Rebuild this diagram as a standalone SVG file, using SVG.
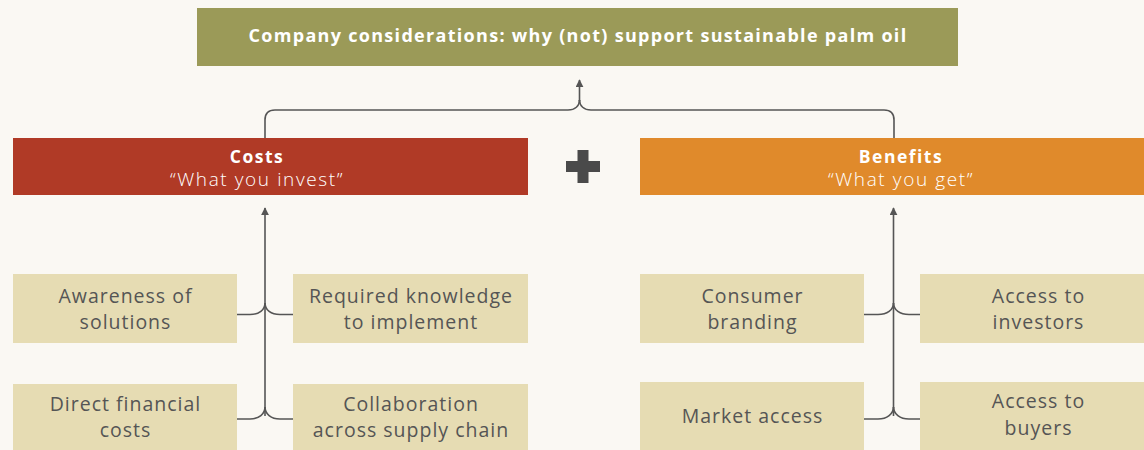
<svg xmlns="http://www.w3.org/2000/svg" width="1144" height="450" viewBox="0 0 1144 450">
<defs>
<style>
.bg{fill:#faf8f3}
.title{fill:#9b9a58}
.costs{fill:#b03a26}
.benefits{fill:#e08a2b}
.item{fill:#e6dcb3}
.conn{fill:none;stroke:#555;stroke-width:1.6}
.t-title{font-family:"Open Sans","Noto Sans",sans-serif;font-weight:700;font-size:18px;letter-spacing:1.3px;fill:#fff;text-anchor:middle}
.t-head{font-family:"Open Sans","Noto Sans",sans-serif;font-weight:700;font-size:17.5px;letter-spacing:1.5px;fill:#fff;text-anchor:middle}
.t-sub{font-family:"Open Sans","Noto Sans",sans-serif;font-weight:300;font-size:19px;letter-spacing:1.6px;fill:#fff;text-anchor:middle}
.t-item{font-family:"Open Sans","Noto Sans",sans-serif;font-weight:400;font-size:19.5px;letter-spacing:1px;fill:#555;text-anchor:middle}
</style>
<marker id="arr" viewBox="0 0 10 10" refX="9" refY="5" markerWidth="8" markerHeight="8" markerUnits="userSpaceOnUse" orient="auto">
<path d="M0,0 L10,5 L0,10 z" fill="#555"/>
</marker>
</defs>
<rect class="bg" x="0" y="0" width="1144" height="450"/>

<g id="connectors">
<path class="conn" d="M265,138 V120 Q265,110 275,110 H568 C575,110 579.5,106 579.5,100"/>
<path class="conn" d="M894,138 V120 Q894,110 884,110 H591 C584,110 579.5,106 579.5,100"/>
<path class="conn" d="M579.5,101 V80" marker-end="url(#arr)"/>
<path class="conn" d="M265,416 V208" marker-end="url(#arr)"/>
<path class="conn" d="M237,314.5 H250 C259,314.5 265,310 265,303"/>
<path class="conn" d="M293,314.5 H280 C271,314.5 265,310 265,303"/>
<path class="conn" d="M237,419 H250 C259,419 265,414 265,407"/>
<path class="conn" d="M293,419 H280 C271,419 265,414 265,407"/>
<path class="conn" d="M893.5,416 V208" marker-end="url(#arr)"/>
<path class="conn" d="M864,314.5 H878 C887,314.5 893.5,310 893.5,303"/>
<path class="conn" d="M920,314.5 H909 C900,314.5 893.5,310 893.5,303"/>
<path class="conn" d="M864,419 H878 C887,419 893.5,414 893.5,407"/>
<path class="conn" d="M920,419 H909 C900,419 893.5,414 893.5,407"/>
</g>

<g id="title">
<rect class="title" x="197" y="8" width="761" height="58"/>
<text class="t-title" x="578" y="42">Company considerations: why (not) support sustainable palm oil</text>
</g>

<g id="costs">
<rect class="costs" x="13" y="138" width="515" height="57"/>
<text class="t-head" x="257" y="163">Costs</text>
<text class="t-sub" x="257" y="186">“What you invest”</text>
</g>

<g id="plus">
<rect x="566" y="161" width="34" height="11" fill="#4a4a4a"/>
<rect x="577.5" y="150" width="11" height="33" fill="#4a4a4a"/>
</g>

<g id="benefits">
<rect class="benefits" x="640" y="138" width="504" height="57"/>
<text class="t-head" x="901" y="163">Benefits</text>
<text class="t-sub" x="901" y="186">“What you get”</text>
</g>

<g id="awareness">
<rect class="item" x="13" y="274" width="224" height="69"/>
<text class="t-item" x="125.5" y="303">Awareness of</text>
<text class="t-item" x="125.5" y="329">solutions</text>
</g>
<g id="knowledge">
<rect class="item" x="293" y="274" width="235" height="69"/>
<text class="t-item" x="411" y="303">Required knowledge</text>
<text class="t-item" x="411" y="329">to implement</text>
</g>
<g id="financial">
<rect class="item" x="13" y="384" width="224" height="66"/>
<text class="t-item" x="125.5" y="411">Direct financial</text>
<text class="t-item" x="125.5" y="437">costs</text>
</g>
<g id="collaboration">
<rect class="item" x="293" y="384" width="235" height="66"/>
<text class="t-item" x="411" y="411">Collaboration</text>
<text class="t-item" x="411" y="437">across supply chain</text>
</g>

<g id="branding">
<rect class="item" x="640" y="274" width="224" height="69"/>
<text class="t-item" x="752.5" y="303">Consumer</text>
<text class="t-item" x="752.5" y="329">branding</text>
</g>
<g id="investors">
<rect class="item" x="920" y="274" width="224" height="69"/>
<text class="t-item" x="1038.5" y="303">Access to</text>
<text class="t-item" x="1038.5" y="329">investors</text>
</g>
<g id="market">
<rect class="item" x="640" y="382" width="224" height="68"/>
<text class="t-item" x="752.5" y="423">Market access</text>
</g>
<g id="buyers">
<rect class="item" x="920" y="382" width="224" height="68"/>
<text class="t-item" x="1038.5" y="408">Access to</text>
<text class="t-item" x="1038.5" y="435">buyers</text>
</g>
</svg>
